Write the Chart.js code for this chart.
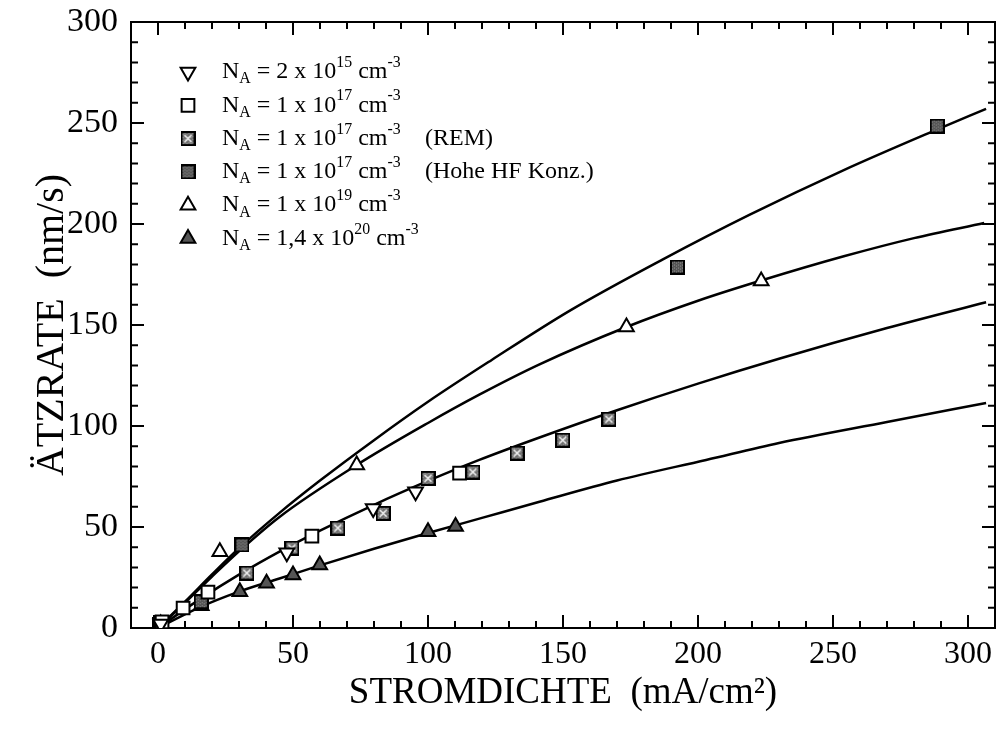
<!DOCTYPE html>
<html>
<head>
<meta charset="utf-8">
<script src="https://cdn.jsdelivr.net/npm/chart.js@4/dist/chart.umd.min.js"></script>
<style>
  html, body { margin: 0; padding: 0; background: #fff; }
  #wrap { width: 998px; height: 731px; }
</style>
</head>
<body>
<div id="wrap"><canvas id="chart" width="998" height="731"></canvas></div>
<script>
// axis ticks
const xTicks = [0, 50, 100, 150, 200, 250, 300];
const yTicks = [0, 50, 100, 150, 200, 250, 300];

// measured points (x: mA/cm2, y: nm/s)
const n15X = [1, 47.7, 79.7, 95.4];
const n15Y = [2, 37.2, 59.2, 67.5];
const n17X = [1.5, 9.3, 18.5, 57, 111.7];
const n17Y = [3, 9.9, 17.8, 45.5, 76.7];
const remX = [1, 32.9, 49.6, 66.6, 83.4, 100, 116.6, 133, 149.9, 167];
const remY = [2.5, 27.2, 39.6, 49.5, 56.8, 74.1, 77.2, 86.6, 93, 103.4];
const hfX = [0.5, 16, 31.1, 192.4, 288.6];
const hfY = [1.5, 13, 41.1, 178.7, 248.5];
const n19X = [1, 22.9, 73.6, 173.5, 223.4];
const n19Y = [2, 37.8, 80.7, 149, 171.8];
const n20X = [1, 16, 30.3, 40.2, 50, 59.9, 100, 110.2];
const n20Y = [1.5, 11, 18, 22.1, 26.2, 31.2, 47.7, 50.2];

// fitted curves
const curveAX = [0, 10, 20, 30, 45, 60, 80, 100, 123.6, 152.4, 187, 219, 254, 288, 306.7];
const curveAY = [0, 13, 26.5, 39.5, 57, 73, 93, 112, 132.7, 157, 182.5, 204.5, 226.7, 246.5, 257];
const curveBX = [0, 10, 20, 30, 45, 73.6, 100, 119, 141.3, 173.5, 200, 223.4, 254, 280, 306];
const curveBY = [0, 12.5, 25.5, 38, 55, 80.7, 101.5, 115.5, 130.5, 149, 162, 172, 184, 193, 200.5];
const curveCX = [0, 15, 30, 45, 60, 80, 100, 119, 141.3, 170, 200, 230, 270, 306.7];
const curveCY = [0, 13.8, 26.4, 37.8, 48.2, 61, 72.8, 83.2, 94.3, 107.8, 121, 133.3, 148.5, 161.3];
const curveDX = [0, 15, 30, 45, 60, 80, 100, 120, 141.3, 170, 203, 230, 270, 306.7];
const curveDY = [0, 10, 18, 24.5, 31, 39.2, 47, 54.5, 62.5, 73, 83.2, 91.6, 102, 111.4];

// legend text: [text, 'n' | 'sub' | 'sup']
const legendLabels = [
    [['N', 'n'], ['A', 'sub'], [' = 2 x 10', 'n'], ['15', 'sup'], [' cm', 'n'], ['-3', 'sup']],
    [['N', 'n'], ['A', 'sub'], [' = 1 x 10', 'n'], ['17', 'sup'], [' cm', 'n'], ['-3', 'sup']],
    [['N', 'n'], ['A', 'sub'], [' = 1 x 10', 'n'], ['17', 'sup'], [' cm', 'n'], ['-3', 'sup']],
    [['N', 'n'], ['A', 'sub'], [' = 1 x 10', 'n'], ['17', 'sup'], [' cm', 'n'], ['-3', 'sup']],
    [['N', 'n'], ['A', 'sub'], [' = 1 x 10', 'n'], ['19', 'sup'], [' cm', 'n'], ['-3', 'sup']],
    [['N', 'n'], ['A', 'sub'], [' = 1,4 x 10', 'n'], ['20', 'sup'], [' cm', 'n'], ['-3', 'sup']]
];
const legendNotes = ['', '', '(REM)', '(Hohe HF Konz.)', '', ''];

const FONT = "'Liberation Serif', 'Times New Roman', serif";

function toPoints(xs, ys) {
    return xs.map((x, i) => ({ x: x, y: ys[i] }));
}

// stippled square markers
function makeSquare(kind) {
    const c = document.createElement('canvas');
    c.width = 15;
    c.height = 15;
    const g = c.getContext('2d');
    g.fillStyle = kind === 'rem' ? '#6e6e6e' : '#555';
    g.fillRect(1, 1, 13, 13);
    g.fillStyle = 'rgba(255,255,255,0.35)';
    for (let i = 2; i < 13; i += 2) {
        for (let j = 2 + (i % 4 ? 1 : 0); j < 13; j += 3) g.fillRect(i, j, 1, 1);
    }
    if (kind === 'rem') {
        g.strokeStyle = '#fff';
        g.lineWidth = 1.3;
        g.beginPath();
        g.moveTo(4, 4); g.lineTo(11, 11);
        g.moveTo(11, 4); g.lineTo(4, 11);
        g.stroke();
    }
    g.strokeStyle = '#000';
    g.lineWidth = 2;
    g.strokeRect(1, 1, 13, 13);
    return c;
}
const remImg = makeSquare('rem');
const hfImg = makeSquare('hf');

const markerStyles = [
    { pointStyle: 'triangle', rotation: 180, radius: 8.5, fill: '#fff' },
    { pointStyle: 'rect', rotation: 0, radius: 9, fill: '#fff' },
    { pointStyle: remImg, rotation: 0, radius: 8, fill: '#fff' },
    { pointStyle: hfImg, rotation: 0, radius: 8, fill: '#fff' },
    { pointStyle: 'triangle', rotation: 0, radius: 8.5, fill: '#fff' },
    { pointStyle: 'triangle', rotation: 0, radius: 8.5, fill: '#555' }
];

const seriesX = [n15X, n17X, remX, hfX, n19X, n20X];
const seriesY = [n15Y, n17Y, remY, hfY, n19Y, n20Y];

const datasets = [];
seriesX.forEach((xs, i) => {
    const m = markerStyles[i];
    datasets.push({
        data: toPoints(xs, seriesY[i]),
        showLine: false,
        pointStyle: m.pointStyle,
        rotation: m.rotation,
        pointRadius: m.radius,
        pointBackgroundColor: m.fill,
        pointBorderColor: '#000',
        pointBorderWidth: 2,
        order: 0
    });
});
[[curveAX, curveAY], [curveBX, curveBY], [curveCX, curveCY], [curveDX, curveDY]].forEach(c => {
    datasets.push({
        data: toPoints(c[0], c[1]),
        showLine: true,
        pointRadius: 0,
        borderColor: '#000',
        borderWidth: 2.5,
        cubicInterpolationMode: 'monotone',
        order: 1
    });
});

function drawRich(ctx, parts, x, y, size) {
    let cx = x;
    parts.forEach(([txt, mode]) => {
        let s = size, dy = 0;
        if (mode === 'sub') { s = size * 0.66; dy = size * 0.3; }
        if (mode === 'sup') { s = size * 0.66; dy = -size * 0.38; }
        ctx.font = s + 'px ' + FONT;
        ctx.fillText(txt, cx, y + dy);
        cx += ctx.measureText(txt).width;
    });
}

function drawMarker(ctx, m, x, y) {
    if (m.pointStyle instanceof HTMLCanvasElement) {
        ctx.drawImage(m.pointStyle, x - 7.5, y - 7.5);
        return;
    }
    ctx.save();
    ctx.fillStyle = m.fill;
    ctx.strokeStyle = '#000';
    ctx.lineWidth = 2;
    ctx.beginPath();
    const r = m.radius;
    if (m.pointStyle === 'rect') {
        const s = r * Math.SQRT1_2;
        ctx.rect(x - s, y - s, 2 * s, 2 * s);
    } else {
        const rad = m.rotation * Math.PI / 180;
        for (let k = 0; k < 3; k++) {
            const a = rad + k * 2 * Math.PI / 3;
            const px = x + Math.sin(a) * r;
            const py = y - Math.cos(a) * r;
            if (k === 0) ctx.moveTo(px, py); else ctx.lineTo(px, py);
        }
        ctx.closePath();
    }
    ctx.fill();
    ctx.stroke();
    ctx.restore();
}

const frameAndLegend = {
    id: 'frameAndLegend',
    beforeDatasetsDraw(chart) {
        const { ctx, chartArea: a, scales: { x, y } } = chart;
        ctx.save();
        ctx.strokeStyle = '#000';
        ctx.lineWidth = 2;
        ctx.strokeRect(a.left, a.top, a.right - a.left, a.bottom - a.top);
        for (let v = 0; v <= 300; v += 10) {
            const len = v % 50 === 0 ? 13 : 7;
            const px = x.getPixelForValue(v);
            ctx.beginPath();
            ctx.moveTo(px, a.bottom); ctx.lineTo(px, a.bottom - len);
            ctx.moveTo(px, a.top); ctx.lineTo(px, a.top + len);
            ctx.stroke();
            const py = y.getPixelForValue(v);
            ctx.beginPath();
            ctx.moveTo(a.left, py); ctx.lineTo(a.left + len, py);
            ctx.moveTo(a.right, py); ctx.lineTo(a.right - len, py);
            ctx.stroke();
        }
        ctx.restore();
    },
    afterDraw(chart) {
        const ctx = chart.ctx;
        ctx.save();
        ctx.fillStyle = '#000';
        ctx.textBaseline = 'middle';
        legendLabels.forEach((parts, i) => {
            const cy = 72 + i * 33.3;
            drawMarker(ctx, markerStyles[i], 188, cy);
            drawRich(ctx, parts, 222, cy, 24);
            if (legendNotes[i]) {
                ctx.font = '24px ' + FONT;
                ctx.fillText(legendNotes[i], 425, cy);
            }
        });
        ctx.restore();
    }
};

new Chart(document.getElementById('chart'), {
    type: 'scatter',
    data: { datasets: datasets },
    options: {
        responsive: false,
        animation: false,
        layout: { autoPadding: false, padding: { top: 22, right: 3, left: 0, bottom: 0 } },
        plugins: {
            legend: { display: false },
            tooltip: { enabled: false }
        },
        scales: {
            x: {
                type: 'linear',
                min: -10,
                max: 310,
                afterBuildTicks: (scale) => { scale.ticks = xTicks.map(v => ({ value: v })); },
                afterFit: (scale) => {
                    scale.height = 103;
                    scale.paddingLeft = 0;
                    scale.paddingRight = 0;
                },
                grid: { display: false, drawTicks: false },
                border: { display: false },
                ticks: {
                    padding: 7,
                    color: '#000',
                    maxRotation: 0,
                    font: { family: FONT, size: 32 }
                },
                title: {
                    display: true,
                    text: 'STROMDICHTE  (mA/cm\u00B2)',
                    color: '#000',
                    font: { family: FONT, size: 37 },
                    padding: { top: 0, bottom: 16 }
                }
            },
            y: {
                type: 'linear',
                min: 0,
                max: 300,
                afterBuildTicks: (scale) => { scale.ticks = yTicks.map(v => ({ value: v })); },
                afterFit: (scale) => {
                    scale.width = 131;
                    scale.paddingTop = 0;
                    scale.paddingBottom = 0;
                },
                grid: { display: false, drawTicks: false },
                border: { display: false },
                ticks: {
                    padding: 13,
                    color: '#000',
                    font: { family: FONT, size: 34 }
                },
                title: {
                    display: true,
                    text: '\u00C4TZRATE  (nm/s)',
                    color: '#000',
                    font: { family: FONT, size: 40 },
                    padding: { top: 28, bottom: 0 }
                }
            }
        }
    },
    plugins: [frameAndLegend]
});
</script>
</body>
</html>
